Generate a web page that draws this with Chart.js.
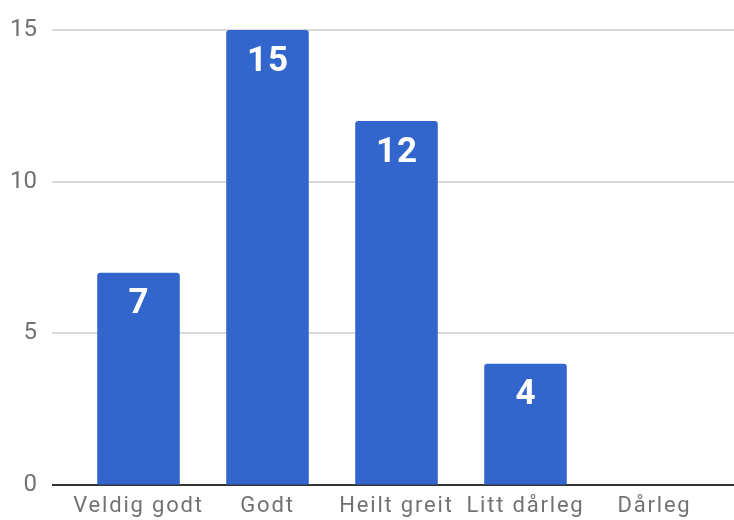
<!DOCTYPE html>
<html>
<head>
<meta charset="utf-8">
<script src="https://cdn.jsdelivr.net/npm/chart.js@4"></script>
<style>
  html, body { margin: 0; padding: 0; background: #fff; }
  #wrap { width: 734px; height: 520px; }
</style>
</head>
<body>
<div id="wrap"><canvas id="c" width="734" height="520"></canvas></div>
<script>
const categories = ['Veldig godt', 'Godt', 'Heilt greit', 'Litt dårleg', 'Dårleg'];
const counts = [7, 15, 12, 4, 0];
const yTicks = [0, 5, 10, 15];

// grid lines run wider than the bar area, so draw them ourselves
const gridPlugin = {
    id: 'wideGrid',
    beforeDatasetsDraw(chart) {
        const ctx = chart.ctx;
        const y = chart.scales.y;
        ctx.save();
        yTicks.forEach(v => {
            const py = Math.round(y.getPixelForValue(v));
            if (v === 0) {
                ctx.strokeStyle = '#333333';
                ctx.lineWidth = 2;
            } else {
                ctx.strokeStyle = '#cccccc';
                ctx.lineWidth = 1.5;
            }
            ctx.beginPath();
            ctx.moveTo(52, py);
            ctx.lineTo(chart.width, py);
            ctx.stroke();
        });
        ctx.restore();
    }
};

// white value labels near the top of each bar
const valuePlugin = {
    id: 'values',
    afterDatasetsDraw(chart) {
        const ctx = chart.ctx;
        const meta = chart.getDatasetMeta(0);
        ctx.save();
        ctx.fillStyle = '#ffffff';
        ctx.font = 'bold 35px Roboto';
        ctx.textAlign = 'center';
        ctx.textBaseline = 'middle';
        ctx.letterSpacing = '1px';
        meta.data.forEach((bar, i) => {
            if (!counts[i]) return;
            ctx.fillText(String(counts[i]), bar.x + 0.5, bar.y + 32);
        });
        ctx.restore();
        // category labels (drawn after this) are spaced a bit wider
        ctx.letterSpacing = '1.8px';
    },
    afterDraw(chart) {
        chart.ctx.letterSpacing = '0px';
    }
};

new Chart(document.getElementById('c'), {
    type: 'bar',
    data: {
        labels: categories,
        datasets: [{
            data: counts,
            backgroundColor: '#3366cc',
            borderRadius: { topLeft: 3, topRight: 3 },
            borderSkipped: 'bottom',
            categoryPercentage: 1,
            barPercentage: 0.64
        }]
    },
    options: {
        responsive: false,
        animation: false,
        layout: { padding: { top: 30, right: 15, left: 0, bottom: 0 } },
        plugins: {
            legend: { display: false },
            tooltip: { enabled: false }
        },
        scales: {
            x: {
                grid: { display: false, drawTicks: false },
                border: { display: false },
                ticks: {
                    color: '#727272',
                    font: { family: 'Roboto', size: 22 },
                    padding: 8,
                    maxRotation: 0,
                    autoSkip: false,
                    z: 1
                },
                afterFit(s) { s.height = 35; }
            },
            y: {
                min: 0,
                max: 15,
                grid: {
                    display: true,
                    drawOnChartArea: false,
                    drawTicks: true,
                    tickLength: 22,
                    color: 'rgba(0,0,0,0)'
                },
                border: { display: false },
                afterBuildTicks(s) { s.ticks = yTicks.map(v => ({ value: v })); },
                ticks: {
                    color: '#727272',
                    font: { family: 'Roboto', size: 24 },
                    padding: 15
                },
                afterFit(s) { s.width = 74; }
            }
        }
    },
    plugins: [gridPlugin, valuePlugin]
});
</script>
</body>
</html>
